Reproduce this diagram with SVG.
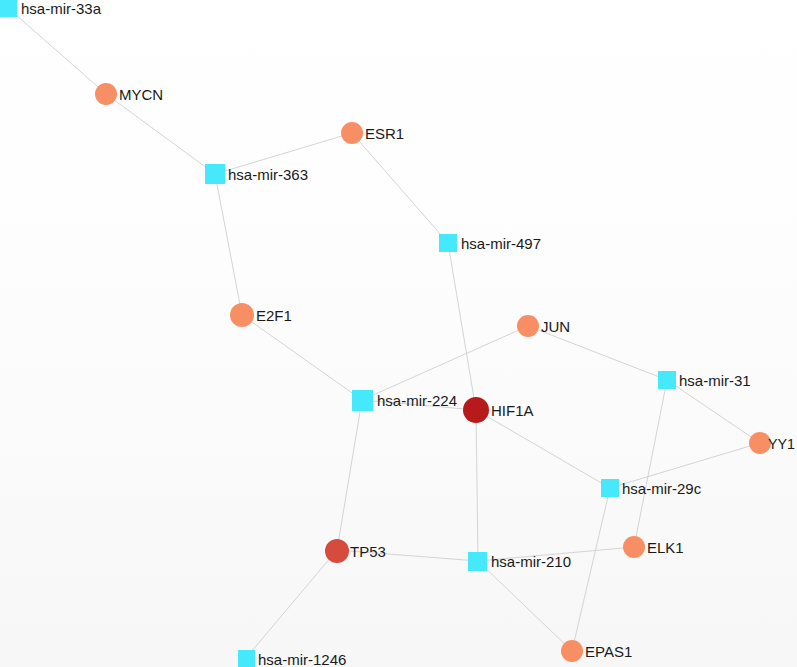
<svg xmlns="http://www.w3.org/2000/svg" width="797" height="667" viewBox="0 0 797 667">
<defs>
<linearGradient id="bg" x1="0" y1="0" x2="0" y2="1">
<stop offset="0" stop-color="#ffffff"/>
<stop offset="0.4" stop-color="#fdfdfd"/>
<stop offset="1" stop-color="#f7f7f7"/>
</linearGradient>
<style>
.e{stroke:#cfcfcf;stroke-width:0.9;fill:none}
.m{fill:#45e9fb}
.g{fill:#f88f64}
.t{font-family:"Liberation Sans",Arial,sans-serif;font-size:15px;fill:#1a1a1a}
</style>
</defs>
<rect width="797" height="667" fill="url(#bg)"/>
<g id="edges">
<line class="e" x1="8" y1="8" x2="106" y2="94"/>
<line class="e" x1="106" y1="94" x2="215" y2="174"/>
<line class="e" x1="215" y1="174" x2="352" y2="133"/>
<line class="e" x1="352" y1="133" x2="448" y2="243"/>
<line class="e" x1="215" y1="174" x2="242" y2="315"/>
<line class="e" x1="448" y1="243" x2="476" y2="410"/>
<line class="e" x1="242" y1="315" x2="362" y2="400"/>
<line class="e" x1="528" y1="326" x2="362" y2="400"/>
<line class="e" x1="528" y1="326" x2="667" y2="380"/>
<line class="e" x1="362" y1="400" x2="476" y2="410"/>
<line class="e" x1="362" y1="400" x2="337" y2="550"/>
<line class="e" x1="476" y1="410" x2="610" y2="488"/>
<line class="e" x1="476" y1="410" x2="478" y2="561"/>
<line class="e" x1="667" y1="380" x2="760" y2="443"/>
<line class="e" x1="667" y1="380" x2="634" y2="547"/>
<line class="e" x1="760" y1="443" x2="610" y2="488"/>
<line class="e" x1="610" y1="488" x2="572" y2="651"/>
<line class="e" x1="337" y1="550" x2="478" y2="561"/>
<line class="e" x1="478" y1="561" x2="634" y2="547"/>
<line class="e" x1="478" y1="561" x2="572" y2="651"/>
<line class="e" x1="337" y1="550" x2="246" y2="658"/>
</g>
<g id="n-mir33a"><rect class="m" x="0" y="0" width="17" height="17"/><text class="t" x="21" y="14">hsa-mir-33a</text></g>
<g id="n-MYCN"><circle class="g" cx="106" cy="94" r="11"/><text class="t" x="119" y="100">MYCN</text></g>
<g id="n-ESR1"><circle class="g" cx="352" cy="133" r="11"/><text class="t" x="365" y="139">ESR1</text></g>
<g id="n-mir363"><rect class="m" x="205" y="164" width="20" height="20"/><text class="t" x="228" y="180">hsa-mir-363</text></g>
<g id="n-mir497"><rect class="m" x="439" y="234" width="18" height="18"/><text class="t" x="461" y="249">hsa-mir-497</text></g>
<g id="n-E2F1"><circle class="g" cx="242" cy="315" r="12"/><text class="t" x="256" y="321">E2F1</text></g>
<g id="n-JUN"><circle class="g" cx="528" cy="326" r="11"/><text class="t" x="541" y="332">JUN</text></g>
<g id="n-mir224"><rect class="m" x="352" y="390" width="21" height="21"/><text class="t" x="377" y="406">hsa-mir-224</text></g>
<g id="n-HIF1A"><circle cx="476" cy="410" r="13" fill="#b61a1a"/><text class="t" x="491" y="416">HIF1A</text></g>
<g id="n-mir31"><rect class="m" x="658" y="371" width="18" height="18"/><text class="t" x="679" y="386">hsa-mir-31</text></g>
<g id="n-YY1"><circle class="g" cx="760" cy="443" r="11"/><text class="t" x="768" y="449" textLength="27" lengthAdjust="spacingAndGlyphs">YY1</text></g>
<g id="n-mir29c"><rect class="m" x="601" y="479" width="18" height="18"/><text class="t" x="622" y="494">hsa-mir-29c</text></g>
<g id="n-ELK1"><circle class="g" cx="634" cy="547" r="11"/><text class="t" x="647" y="553">ELK1</text></g>
<g id="n-TP53"><circle cx="337" cy="551" r="12" fill="#d74b3c"/><text class="t" x="350" y="557">TP53</text></g>
<g id="n-mir210"><rect class="m" x="468" y="552" width="19" height="19"/><text class="t" x="491" y="567">hsa-mir-210</text></g>
<g id="n-EPAS1"><circle class="g" cx="572" cy="651" r="11"/><text class="t" x="585" y="657">EPAS1</text></g>
<g id="n-mir1246"><rect class="m" x="238" y="650" width="17" height="17"/><text class="t" x="258" y="665">hsa-mir-1246</text></g>
</svg>
